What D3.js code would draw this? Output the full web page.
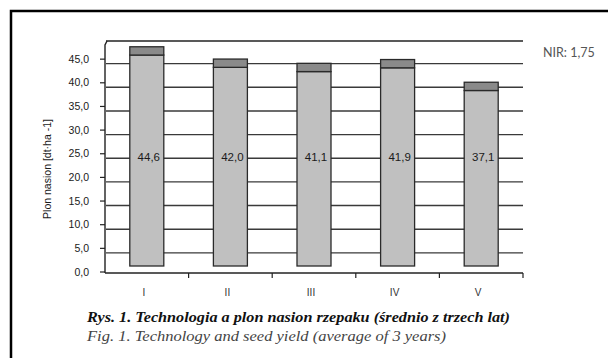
<!DOCTYPE html>
<html><head><meta charset="utf-8">
<script src="https://cdn.jsdelivr.net/npm/d3@7"></script>
<style>html,body{margin:0;padding:0;background:#fff;}svg{display:block;}</style>
</head><body>
<svg id="c" width="608" height="358"></svg>
<script>
const categories = ["I", "II", "III", "IV", "V"];
const yieldValues = [44.6, 42.0, 41.1, 41.9, 37.1];
const nirValue = 1.75;
const yTickValues = [0, 5, 10, 15, 20, 25, 30, 35, 40, 45];
const gridValues = [5, 10, 15, 20, 25, 30, 35, 40, 45, 50];
const yTitle = "Plon nasion [dt·ha -1]";
const nirLabel = "NIR: 1,75";
const caption1 = "Rys. 1. Technologia a plon nasion rzepaku (średnio z trzech lat)";
const caption2 = "Fig. 1. Technology and seed yield (average of 3 years)";

const svg = d3.select("#c");
const fmt = v => d3.format(".1f")(v).replace(".", ",");
const sans = "'Liberation Sans', Arial, sans-serif";
const serif = "'Liberation Serif', 'Times New Roman', serif";

// frame (only top and left visible)
svg.append("path").attr("d", "M11,358 L11,11 L608,11")
  .attr("fill", "none").attr("stroke", "#000").attr("stroke-width", 2.5);

const x = d3.scaleBand().domain(categories).range([105, 523]).padding(0);
const yFront = d3.scaleLinear().domain([0, 50]).range([272, 35.5]);
const yGrid = v => yFront(v) + 4.5;
const yBar = v => yFront(v) - 6;

// gridlines on back wall
svg.append("g").selectAll("line").data(gridValues).join("line")
  .attr("x1", 106).attr("x2", 523)
  .attr("y1", d => d === 50 ? 41 : yGrid(d)).attr("y2", d => d === 50 ? 41 : yGrid(d))
  .attr("stroke", d => d === 50 ? "#222" : "#3a3a3a").attr("stroke-width", 1.4);

// axis lines
svg.append("path").attr("d", "M105,273 L105,45 L107,41")
  .attr("fill", "none").attr("stroke", "#222").attr("stroke-width", 1.4);
svg.append("line").attr("x1", 105).attr("x2", 523).attr("y1", 273).attr("y2", 273)
  .attr("stroke", "#222").attr("stroke-width", 1.4);

// y ticks + labels
const yt = svg.append("g");
yt.selectAll("line").data(yTickValues).join("line")
  .attr("x1", 100).attr("x2", 105).attr("y1", d => yFront(d)).attr("y2", d => yFront(d))
  .attr("stroke", "#222").attr("stroke-width", 1.2);
yt.selectAll("text").data(yTickValues).join("text")
  .attr("x", 89).attr("y", d => yFront(d)).attr("dy", "0.35em")
  .attr("text-anchor", "end").attr("font-family", sans)
  .attr("font-size", 10.5).attr("fill", "#1a1a1a").text(fmt);

// x ticks at band boundaries
const bounds = categories.map(c => x(c) + x.bandwidth());
svg.append("g").selectAll("line").data(bounds).join("line")
  .attr("x1", d => d).attr("x2", d => d).attr("y1", 273).attr("y2", 278)
  .attr("stroke", "#222").attr("stroke-width", 1.2);

// category labels
svg.append("g").selectAll("text").data(categories).join("text")
  .attr("x", d => x(d) + x.bandwidth() / 2 - 3).attr("y", 296)
  .attr("text-anchor", "middle").attr("font-family", sans)
  .attr("font-size", 10).attr("fill", "#333").text(d => d);

// bars
const bw = 34;
const bars = svg.append("g");
const data = categories.map((c, i) => ({ c, v: yieldValues[i] }));
bars.selectAll("rect.base").data(data).join("rect").attr("class", "base")
  .attr("x", d => x(d.c) + x.bandwidth() / 2 - bw / 2).attr("width", bw)
  .attr("y", d => yBar(d.v)).attr("height", d => yBar(0) - yBar(d.v))
  .attr("fill", "#c0c0c0").attr("stroke", "#2a2a2a").attr("stroke-width", 1.3);
bars.selectAll("rect.cap").data(data).join("rect").attr("class", "cap")
  .attr("x", d => x(d.c) + x.bandwidth() / 2 - bw / 2).attr("width", bw)
  .attr("y", d => yBar(d.v + nirValue)).attr("height", d => yBar(d.v) - yBar(d.v + nirValue))
  .attr("fill", "#8a8a8a").attr("stroke", "#2a2a2a").attr("stroke-width", 1.3);

// value labels
bars.selectAll("text").data(data).join("text")
  .attr("x", d => x(d.c) + x.bandwidth() / 2 + 2).attr("y", yBar(23.0)).attr("dy", "0.35em")
  .attr("text-anchor", "middle").attr("font-family", sans)
  .attr("font-size", 11.5).attr("fill", "#1a1a1a").text(d => fmt(d.v));

// y title
svg.append("text").attr("transform", "translate(51,169) rotate(-90)")
  .attr("text-anchor", "middle").attr("font-family", sans)
  .attr("font-size", 10.5).attr("fill", "#1a1a1a").text(yTitle);

// NIR
svg.append("text").attr("x", 543).attr("y", 57)
  .attr("font-family", "Lato, 'Open Sans', sans-serif").attr("font-size", 12.5)
  .attr("fill", "#555").text(nirLabel);

// captions
svg.append("text").attr("x", 87).attr("y", 322)
  .attr("font-family", serif).attr("font-style", "italic")
  .attr("font-weight", "bold").attr("font-size", 14).attr("fill", "#111")
  .attr("textLength", 423).attr("lengthAdjust", "spacingAndGlyphs").text(caption1);
svg.append("text").attr("x", 87).attr("y", 341)
  .attr("font-family", serif).attr("font-style", "italic")
  .attr("font-size", 14).attr("fill", "#444")
  .attr("textLength", 359).attr("lengthAdjust", "spacingAndGlyphs").text(caption2);
</script>
</body></html>
